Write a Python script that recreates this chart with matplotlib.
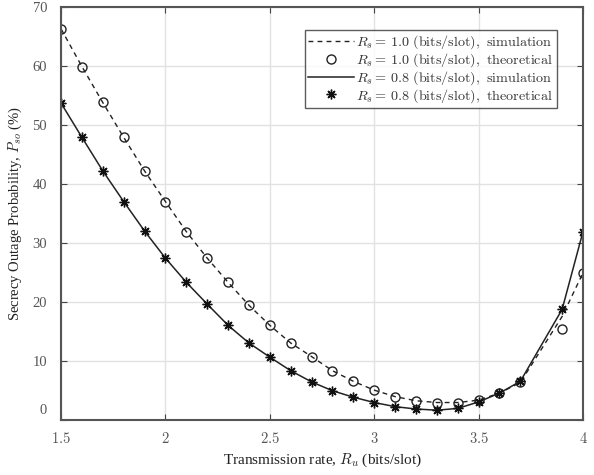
import matplotlib
matplotlib.use("Agg")
import matplotlib.pyplot as plt
import matplotlib.transforms as mtransforms
import numpy as np

# Transmission rate points (3.8 is not sampled)
rate = [1.5, 1.6, 1.7, 1.8, 1.9, 2.0, 2.1, 2.2, 2.3, 2.4, 2.5, 2.6, 2.7,
        2.8, 2.9, 3.0, 3.1, 3.2, 3.3, 3.4, 3.5, 3.6, 3.7, 3.9, 4.0]

# Rs = 1.0 (bits/slot)
sim_10 = [66.3, 59.9, 53.8, 47.9, 42.2, 37.0, 31.9, 27.4, 23.3, 19.4, 16.0, 13.0, 10.7,
          8.3, 6.5, 5.0, 3.9, 3.2, 2.9, 2.9, 3.3, 4.5, 6.3, 17.5, 24.9]
theo_10 = [66.3, 59.9, 53.8, 47.9, 42.2, 37.0, 31.9, 27.4, 23.3, 19.4, 16.0, 13.0, 10.7,
           8.3, 6.5, 5.0, 3.9, 3.2, 2.9, 2.9, 3.3, 4.5, 6.3, 15.4, 24.9]

# Rs = 0.8 (bits/slot)
sim_08 = [53.7, 47.9, 42.2, 37.0, 32.0, 27.4, 23.3, 19.6, 16.0, 13.0, 10.6, 8.3, 6.4,
          4.9, 3.8, 2.9, 2.2, 1.8, 1.6, 1.9, 3.0, 4.5, 6.5, 18.7, 31.9]
theo_08 = [53.7, 47.9, 42.2, 37.0, 32.0, 27.4, 23.3, 19.6, 16.0, 13.0, 10.6, 8.3, 6.4,
           4.9, 3.8, 2.9, 2.2, 1.8, 1.6, 1.9, 3.0, 4.5, 6.5, 18.7, 31.9]

xticks = [1.5, 2, 2.5, 3, 3.5, 4]
xticklabels = ["1.5", "2", "2.5", "3", "3.5", "4"]
yticks = [0, 10, 20, 30, 40, 50, 60, 70]

plt.rcParams['mathtext.fontset'] = 'cm'
plt.rcParams['font.family'] = ['Liberation Serif', 'DejaVu Serif']

fig = plt.figure(figsize=(5.94, 4.75), dpi=100)
ax = fig.add_axes([0.1027, 0.1166, 0.8788, 0.8687])

ax.plot(rate, sim_10, linestyle=(0, (3.5, 3.0)), color='#222222', lw=1.0,
        label=r'$R_s = \,1.0\ \mathrm{(bits/slot),\ simulation}$')
ax.plot(rate, theo_10, linestyle='none', marker='o', markersize=6.5,
        markerfacecolor='none', markeredgecolor='#222222', markeredgewidth=1.0,
        label=r'$R_s = \,1.0\ \mathrm{(bits/slot),\ theoretical}$')
ax.plot(rate, sim_08, linestyle='-', color='#222222', lw=1.1,
        label=r'$R_s = \,0.8\ \mathrm{(bits/slot),\ simulation}$')
ax.plot(rate, theo_08, linestyle='none', marker=(8, 2, 0), markersize=7,
        color='#111111', markeredgewidth=1.0,
        label=r'$R_s = \,0.8\ \mathrm{(bits/slot),\ theoretical}$')

ax.set_xlim(1.5, 4)
ax.set_ylim(0, 70)
ax.set_xticks(xticks)
ax.set_xticklabels([r'$\mathrm{%s}$' % t for t in xticklabels])
ax.set_yticks(yticks)
ax.set_yticklabels([str(t) for t in yticks])
ax.tick_params(direction='in', top=True, right=True, length=4, width=0.8,
               colors='#444444', labelsize=10.5, labelcolor='#555555')
ax.tick_params(axis='x', pad=8)
ax.tick_params(axis='y', pad=10)

# the "0" label sits a bit higher than its tick in the reference
lbl0 = ax.get_yticklabels()[0]
lbl0.set_transform(lbl0.get_transform() +
                   mtransforms.ScaledTranslation(0, 11 / 100, fig.dpi_scale_trans))

ax.grid(True, color='#e2e2e2', lw=1.0)
ax.set_axisbelow(True)
for s in ax.spines.values():
    s.set_color('#555555')
    s.set_linewidth(1.5)

ax.set_xlabel(r'Transmission rate, $R_u$ (bits/slot)',
              fontsize=11, color='#222222', labelpad=4)
ax.set_ylabel(r'Secrecy Outage Probability, $P_{so}$ (%)', fontsize=10.5,
              color='#222222', labelpad=6)

leg = ax.legend(loc='upper right', bbox_to_anchor=(0.950, 0.944), borderaxespad=0,
                fontsize=10.2, frameon=True, fancybox=False, handlelength=3.2,
                handletextpad=0.2, labelspacing=0.0, borderpad=0.25)
leg.get_frame().set_edgecolor('#333333')
leg.get_frame().set_linewidth(1.0)
for t in leg.get_texts():
    t.set_color('#333333')

fig.savefig('out.png', dpi=100)
